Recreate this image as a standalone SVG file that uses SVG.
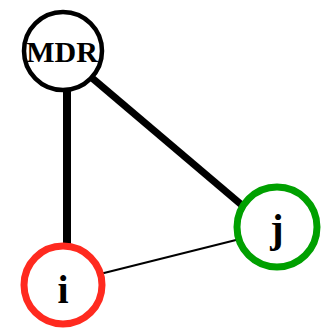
<svg xmlns="http://www.w3.org/2000/svg" width="326" height="330" viewBox="0 0 326 330">
  <style>
    .node { fill: #ffffff; }
    .lbl { font-family: "Liberation Serif", "Times New Roman", serif; font-weight: bold; text-anchor: middle; fill: #000000; }
  </style>
  <rect width="326" height="330" fill="#ffffff"/>
  <g id="connectors" stroke="#000000" stroke-linecap="butt">
    <line x1="67" y1="80" x2="67" y2="250" stroke-width="8"/>
    <line x1="85" y1="72" x2="250" y2="212" stroke-width="7"/>
    <line x1="100" y1="274" x2="240" y2="239" stroke-width="2"/>
  </g>
  <g id="node-mdr">
    <circle class="node" cx="63" cy="51" r="39" stroke="#000000" stroke-width="4.5"/>
    <text class="lbl" x="62" y="62" font-size="30">MDR</text>
  </g>
  <g id="node-j">
    <circle class="node" cx="277" cy="227" r="40" stroke="#00a000" stroke-width="7"/>
    <text class="lbl" x="277" y="242" font-size="40">j</text>
  </g>
  <g id="node-i">
    <circle class="node" cx="63" cy="285" r="39" stroke="#ff2a1f" stroke-width="7"/>
    <text class="lbl" x="63" y="303" font-size="40">i</text>
  </g>
</svg>
